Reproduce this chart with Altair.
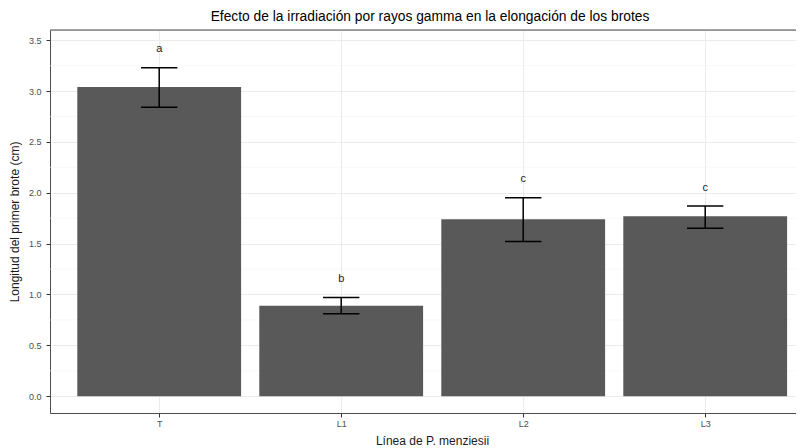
import altair as alt
import pandas as pd

# ---- data ----
categories = ["T", "L1", "L2", "L3"]
means = [3.04, 0.89, 1.74, 1.77]
err_low = [2.84, 0.81, 1.52, 1.65]
err_high = [3.23, 0.97, 1.95, 1.87]
letters = ["a", "b", "c", "c"]
letter_y = [3.41, 1.15, 2.14, 2.05]
y_ticks = [0.0, 0.5, 1.0, 1.5, 2.0, 2.5, 3.0, 3.5]
minor_breaks = [0.25, 0.75, 1.25, 1.75, 2.25, 2.75, 3.25]

positions = list(range(len(categories)))
df = pd.DataFrame({
    "pos": positions,
    "cat": categories,
    "mean": means,
    "lo": err_low,
    "hi": err_high,
    "lab": letters,
    "laby": letter_y,
})
minor_df = pd.DataFrame({"v": minor_breaks})
border_df = pd.DataFrame({"z": [0]})

FONT = "Liberation Sans"
W, H = 746, 383          # total svg width 788 = page content width (no shrinking)
STEP = 182.0             # pixels per category (panel continues beyond the right edge)

x_scale = alt.Scale(domain=[-0.6, -0.6 + W / STEP], nice=False, zero=False)
y_scale = alt.Scale(domain=[-0.165, 3.6], nice=False, zero=False)

label_expr = "[" + ",".join("'%s'" % c for c in categories) + "][datum.value]"

x_axis = alt.Axis(
    title="Línea de P. menziesii", values=positions, labelExpr=label_expr,
    labelAngle=0, grid=True, gridColor="#ebebeb", gridWidth=1,
    domainColor="#4d4d4d", domainWidth=1,
    tickColor="#333333", tickSize=4, labelPadding=2,
    labelFontSize=9, labelColor="#4d4d4d", labelFont=FONT,
    titleFontSize=12, titleColor="#1a1a1a", titleFontWeight="normal", titleFont=FONT,
    titleX=382, titleY=27, titleBaseline="middle", titleAlign="center",
)
y_axis = alt.Axis(
    title="Longitud del primer brote (cm)", values=y_ticks, format=".1f",
    grid=True, gridColor="#ebebeb", gridWidth=1,
    domainColor="#4d4d4d", domainWidth=1,
    tickColor="#333333", tickSize=4, labelPadding=5,
    labelFontSize=9, labelColor="#4d4d4d", labelFont=FONT,
    titleFontSize=12, titleColor="#1a1a1a", titleFontWeight="normal", titleFont=FONT,
    titleX=-36, titleY=H / 2, titleBaseline="middle", titleAlign="center",
)

X = alt.X("pos:Q", scale=x_scale, axis=x_axis)

minor = alt.Chart(minor_df).mark_rule(color="#f3f3f3", strokeWidth=0.6).encode(
    y=alt.Y("v:Q", scale=y_scale, axis=y_axis)
)

base = alt.Chart(df)

bars = base.transform_calculate(
    x1="datum.pos - 0.45", x2="datum.pos + 0.45"
).mark_bar(color="#595959").encode(
    x=alt.X("x1:Q", scale=x_scale, axis=x_axis),
    x2="x2:Q",
    y=alt.Y("mean:Q", scale=y_scale, axis=y_axis),
    y2=alt.datum(0),
)

err = base.mark_rule(color="black", strokeWidth=1.5).encode(
    x=X,
    y=alt.Y("lo:Q", scale=y_scale, axis=y_axis),
    y2="hi:Q",
)
caps = base.transform_fold(["lo", "hi"], as_=["k", "v"]).transform_calculate(
    c1="datum.pos - 0.1", c2="datum.pos + 0.1"
).mark_rule(color="black", strokeWidth=1.5).encode(
    x=alt.X("c1:Q", scale=x_scale, axis=x_axis),
    x2="c2:Q",
    y=alt.Y("v:Q", scale=y_scale, axis=y_axis),
)
txt = base.mark_text(fontSize=11, color="#1a1a1a", baseline="middle", font=FONT).encode(
    x=X, y=alt.Y("laby:Q", scale=y_scale, axis=y_axis), text="lab:N"
)

top_border = alt.Chart(border_df).mark_rule(color="#4d4d4d", strokeWidth=1).encode(
    x=alt.value(0), x2=alt.value(W), y=alt.value(0)
)

chart = alt.layer(minor, bars, err, caps, txt, top_border).properties(
    width=W,
    height=H,
    autosize=alt.AutoSizeParams(type="none"),
    padding={"left": 42, "top": 22, "right": 0, "bottom": 35},
    title=alt.TitleParams(
        text="Efecto de la irradiación por rayos gamma en la elongación de los brotes",
        fontSize=13.8, fontWeight="normal", anchor="middle", frame="group",
        color="#000000", font=FONT, dx=7, offset=6,
    ),
).configure_view(stroke=None).configure(background="white")

chart.save("out.html", embed_options={"renderer": "svg", "actions": False})
